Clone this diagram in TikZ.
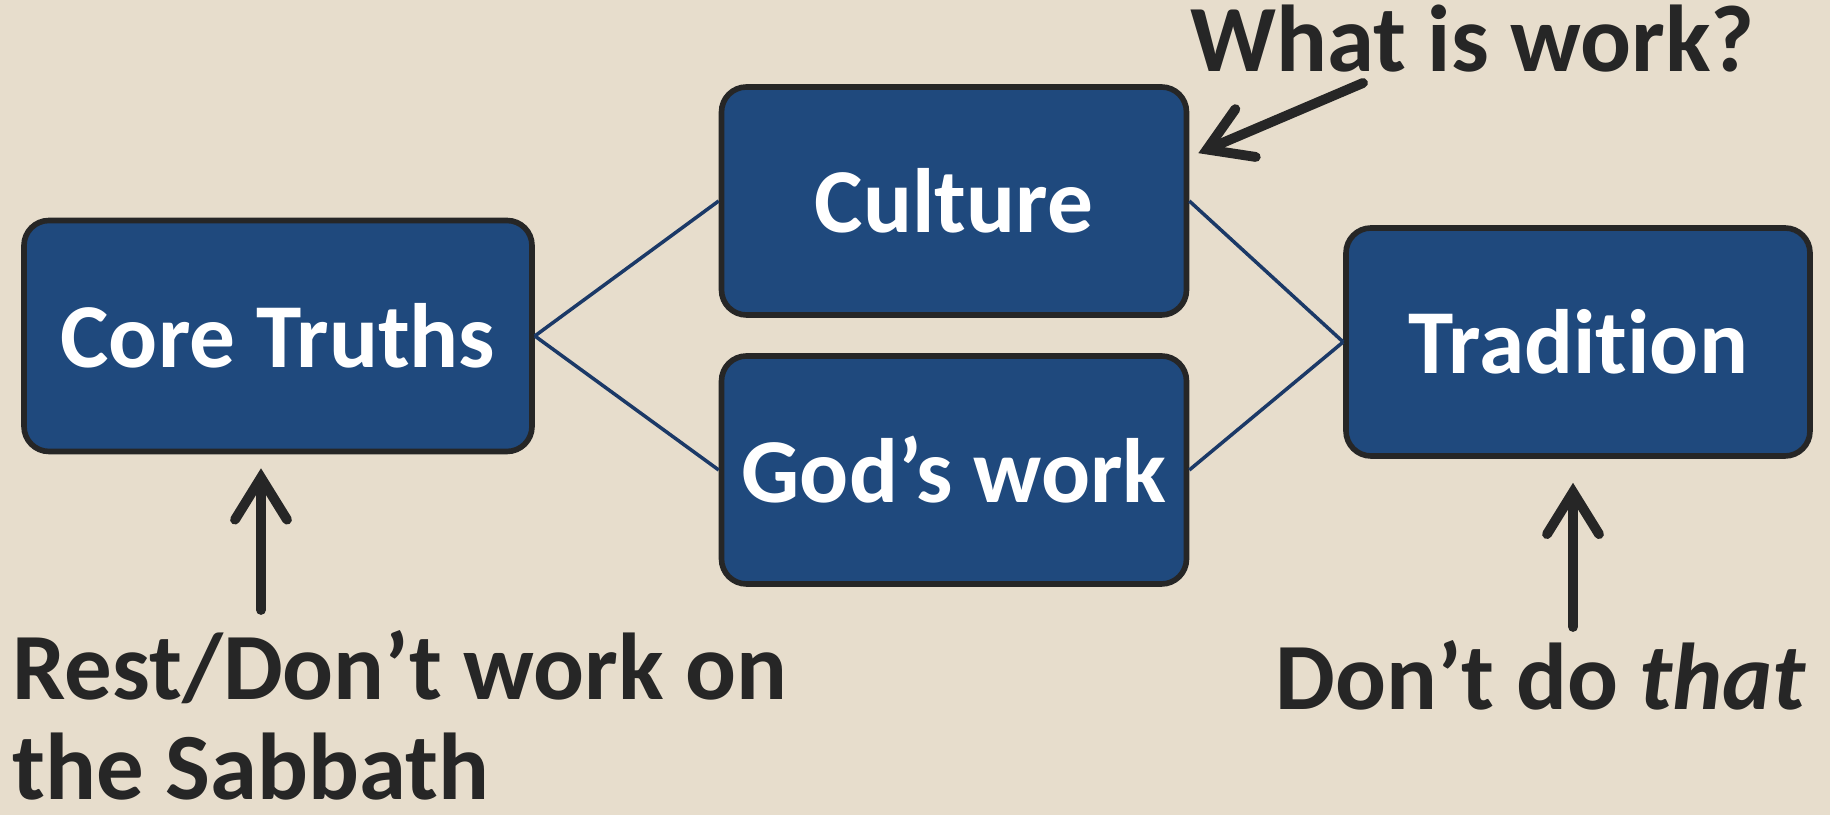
\documentclass[tikz,border=0pt]{standalone}
\usepackage{fontspec}
\setmainfont{Carlito}[Ligatures=NoCommon]
\usetikzlibrary{arrows.meta}
\definecolor{boxblue}{RGB}{31,73,125}
\definecolor{linkblue}{RGB}{27,57,103}
\definecolor{ink}{RGB}{38,38,38}
\definecolor{paper}{RGB}{231,221,204}
\tikzset{
  topic/.style={draw=ink, line width=1.6pt, fill=boxblue, rounded corners=0.25cm,
    text=white, font=\bfseries\fontsize{26}{30}\selectfont,
    minimum width=4.65cm, minimum height=2.28cm},
  note/.style={text=ink, font=\bfseries\fontsize{27}{28.5}\selectfont, inner sep=0pt},
  link/.style={draw=linkblue, line width=1pt},
  pointer/.style={draw=ink, line width=2.8pt, line cap=round,
    -{Straight Barb[length=4.2mm,width=5.2mm,line cap=round]}}
}
\begin{document}
\begin{tikzpicture}
\useasboundingbox (0,0) rectangle (18.3,8.15);
\fill[paper] (0,0) rectangle (18.3,8.15);

\node[topic, minimum width=5.08cm, minimum height=2.31cm] (core) at (2.78,4.79) {Core Truths};
\node[topic] (culture) at (9.54,6.14) {Culture};
\node[topic] (gods) at (9.54,3.45) {God’s work};
\node[topic, minimum width=4.64cm] (trad) at (15.78,4.73) {Tradition};

\draw[link] (core.east) -- (culture.west);
\draw[link] (core.east) -- (gods.west);
\draw[link] (culture.east) -- (trad.west);
\draw[link] (gods.east) -- (trad.west);

\node[note, anchor=base west] (what) at (11.90,7.43) {What is work?};
\node[note, anchor=base west, align=left, text depth=0pt] (rest) at (0.12,0.15) {Rest/Don’t work on\\the Sabbath};
\node[note, anchor=base west] (dont) at (12.75,1.05) {Don’t do \textit{that}};

\coordinate (whattail) at (13.63,7.32);
\coordinate (resttail) at (2.61,2.05);
\coordinate (donttail) at (15.73,1.88);
\draw[pointer] (whattail) -- ([xshift=0.09cm,yshift=-0.69cm]culture.north east);
\draw[pointer] (resttail) -- ([xshift=-0.17cm,yshift=-0.14cm]core.south);
\draw[pointer] (donttail) -- ([xshift=-0.05cm,yshift=-0.24cm]trad.south);
\end{tikzpicture}
\end{document}
